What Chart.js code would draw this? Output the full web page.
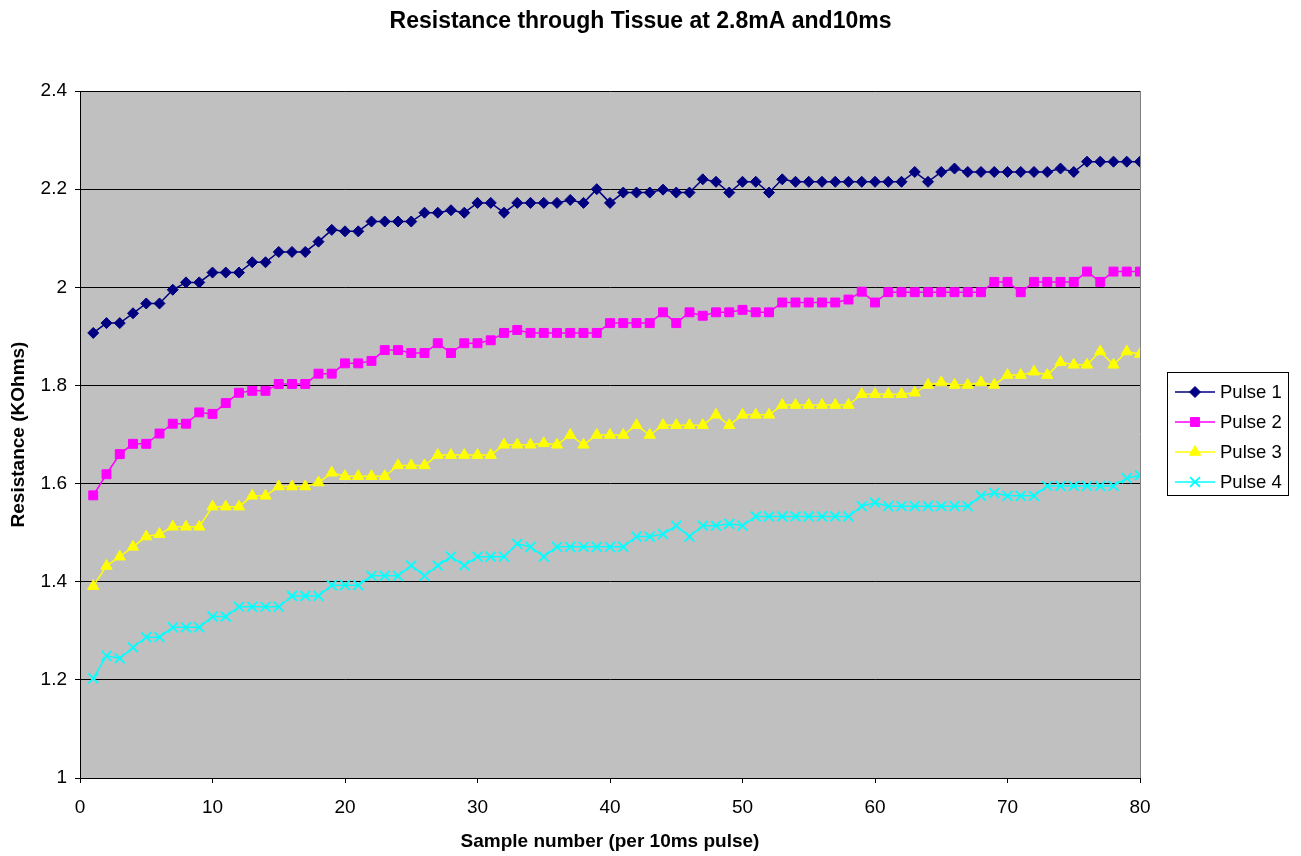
<!DOCTYPE html>
<html>
<head>
<meta charset="utf-8">
<script src="https://cdn.jsdelivr.net/npm/chart.js@4.4.1/dist/chart.umd.min.js"></script>
<style>
  body { margin: 0; background: #fff; }
  #wrap { width: 1301px; height: 856px; position: relative; }
</style>
</head>
<body>
<div id="wrap"><canvas id="chart"></canvas></div>
<script>
const samples = [1,2,3,4,5,6,7,8,9,10,11,12,13,14,15,16,17,18,19,20,
  21,22,23,24,25,26,27,28,29,30,31,32,33,34,35,36,37,38,39,40,
  41,42,43,44,45,46,47,48,49,50,51,52,53,54,55,56,57,58,59,60,
  61,62,63,64,65,66,67,68,69,70,71,72,73,74,75,76,77,78,79,80];

const pulse1 = [1.907,1.927,1.927,1.947,1.967,1.967,1.995,2.010,2.010,2.030,
  2.030,2.030,2.051,2.051,2.072,2.072,2.072,2.093,2.117,2.114,
  2.114,2.134,2.134,2.134,2.134,2.152,2.152,2.157,2.152,2.172,
  2.172,2.152,2.172,2.172,2.172,2.172,2.178,2.172,2.200,2.172,
  2.193,2.193,2.193,2.199,2.193,2.193,2.220,2.215,2.193,2.215,
  2.215,2.193,2.220,2.215,2.215,2.215,2.215,2.215,2.215,2.215,
  2.215,2.215,2.235,2.215,2.235,2.242,2.235,2.235,2.235,2.235,
  2.235,2.235,2.235,2.242,2.235,2.256,2.256,2.256,2.256,2.256];

const pulse2 = [1.576,1.619,1.660,1.681,1.681,1.702,1.722,1.722,1.745,1.742,
  1.764,1.785,1.789,1.789,1.803,1.803,1.803,1.824,1.824,1.845,
  1.845,1.850,1.872,1.872,1.866,1.866,1.886,1.866,1.886,1.886,
  1.892,1.907,1.913,1.907,1.907,1.907,1.907,1.907,1.907,1.927,
  1.927,1.927,1.927,1.949,1.927,1.949,1.942,1.949,1.949,1.954,
  1.949,1.949,1.969,1.969,1.969,1.969,1.969,1.975,1.991,1.969,
  1.990,1.990,1.990,1.990,1.990,1.990,1.990,1.990,2.011,2.011,
  1.990,2.011,2.011,2.011,2.011,2.032,2.011,2.032,2.032,2.032];

const pulse3 = [1.391,1.432,1.451,1.471,1.492,1.497,1.512,1.512,1.512,1.553,
  1.553,1.553,1.575,1.575,1.594,1.594,1.594,1.602,1.622,1.615,
  1.615,1.615,1.615,1.637,1.637,1.637,1.658,1.658,1.658,1.658,
  1.658,1.679,1.679,1.679,1.682,1.679,1.699,1.679,1.699,1.699,
  1.699,1.719,1.699,1.719,1.719,1.719,1.719,1.740,1.719,1.740,
  1.740,1.740,1.760,1.760,1.760,1.760,1.760,1.760,1.782,1.782,
  1.782,1.782,1.785,1.801,1.806,1.801,1.801,1.806,1.801,1.821,
  1.821,1.828,1.821,1.847,1.842,1.842,1.869,1.842,1.869,1.864];

const pulse4 = [1.203,1.249,1.244,1.266,1.287,1.287,1.307,1.307,1.307,1.329,
  1.329,1.349,1.349,1.349,1.349,1.371,1.371,1.371,1.393,1.393,
  1.393,1.412,1.412,1.412,1.433,1.412,1.433,1.451,1.433,1.451,
  1.451,1.451,1.477,1.471,1.451,1.471,1.471,1.471,1.471,1.471,
  1.471,1.492,1.492,1.497,1.514,1.492,1.514,1.514,1.518,1.514,
  1.533,1.533,1.533,1.533,1.533,1.533,1.533,1.533,1.554,1.561,
  1.554,1.554,1.554,1.554,1.554,1.554,1.554,1.575,1.581,1.575,
  1.575,1.575,1.595,1.595,1.595,1.595,1.595,1.595,1.611,1.617];

const seriesNames = ["Pulse 1", "Pulse 2", "Pulse 3", "Pulse 4"];
const seriesValues = [pulse1, pulse2, pulse3, pulse4];
const colors = ["#000080", "#ff00ff", "#ffff00", "#00ffff"];
const markers = ["rectRot", "rect", "triangle", "crossRot"];
const markerSizes = [5.5, 6.3, 6.5, 7];

const FONT = "Arial, 'Liberation Sans', sans-serif";
Chart.defaults.font.family = FONT;
Chart.defaults.color = "#000";

const datasets = seriesValues.map((vals, i) => ({
  label: seriesNames[i],
  data: vals.map((v, j) => ({ x: samples[j], y: v })),
  borderColor: colors[i],
  backgroundColor: colors[i],
  borderWidth: 1.5,
  tension: 0,
  pointStyle: markers[i],
  pointRadius: markerSizes[i],
  pointBackgroundColor: colors[i],
  pointBorderColor: colors[i],
  pointBorderWidth: i === 3 ? 1.8 : 1,
  yAxisID: "y"
}));

// grey plot area and its right edge
const plotArea = {
  id: "plotArea",
  beforeDraw(chart) {
    const { ctx, chartArea: a } = chart;
    ctx.save();
    ctx.fillStyle = "#c0c0c0";
    ctx.fillRect(a.left, a.top, a.right - a.left, a.bottom - a.top);
    ctx.restore();
  },
  afterDraw(chart) {
    const { ctx, chartArea: a } = chart;
    ctx.save();
    ctx.strokeStyle = "#808080";
    ctx.lineWidth = 1;
    ctx.beginPath();
    ctx.moveTo(a.right + 0.5, a.top);
    ctx.lineTo(a.right + 0.5, a.bottom);
    ctx.stroke();
    ctx.restore();
  }
};

// boxed legend with line + marker, like the spreadsheet one
const boxLegend = {
  id: "boxLegend",
  afterDraw(chart) {
    const ctx = chart.ctx;
    const bx = 1167, by = 372, bw = 121, bh = 123;
    ctx.save();
    ctx.fillStyle = "#fff";
    ctx.fillRect(bx, by, bw, bh);
    ctx.strokeStyle = "#000";
    ctx.lineWidth = 1;
    ctx.strokeRect(bx + 0.5, by + 0.5, bw, bh);
    ctx.font = "18.5px " + FONT;
    ctx.textBaseline = "middle";
    chart.data.datasets.forEach((ds, i) => {
      const y = 392 + i * 30;
      ctx.strokeStyle = ds.borderColor;
      ctx.lineWidth = 1.5;
      ctx.beginPath();
      ctx.moveTo(1175, y);
      ctx.lineTo(1215, y);
      ctx.stroke();
      ctx.fillStyle = ds.pointBackgroundColor;
      ctx.lineWidth = ds.pointBorderWidth;
      Chart.helpers.drawPoint(ctx, {
        pointStyle: ds.pointStyle,
        radius: ds.pointRadius,
        rotation: 0,
        borderWidth: ds.pointBorderWidth
      }, 1195, y);
      ctx.fillStyle = "#000";
      ctx.fillText(ds.label, 1220, y + 1);
    });
    ctx.restore();
  }
};

new Chart(document.getElementById("chart"), {
  type: "line",
  data: { datasets },
  options: {
    responsive: true,
    maintainAspectRatio: false,
    animation: false,
    layout: { padding: { right: 20 } },
    plugins: {
      legend: { display: false },
      tooltip: { enabled: false },
      title: {
        display: true,
        text: "Resistance through Tissue at 2.8mA and10ms",
        font: { size: 23, weight: "bold" },
        color: "#000",
        padding: { top: 8, bottom: 55.4 }
      }
    },
    scales: {
      x: {
        type: "linear",
        min: 0,
        max: 80,
        ticks: { stepSize: 10, font: { size: 19 }, padding: 13, maxRotation: 0 },
        grid: { drawOnChartArea: false, drawTicks: true, tickLength: 5, color: "#000" },
        border: { display: true, color: "#000", width: 1 },
        title: {
          display: true,
          text: "Sample number (per 10ms pulse)",
          font: { size: 19, weight: "bold" },
          padding: { top: 0, bottom: 3 }
        },
        afterFit(s) { s.height = 78; }
      },
      y: {
        type: "linear",
        position: "left",
        min: 1,
        max: 2.4,
        ticks: {
          stepSize: 0.2,
          font: { size: 19 },
          padding: 8,
          callback: v => String(+v.toFixed(1))
        },
        grid: { color: "#000", lineWidth: 1, drawTicks: true, tickLength: 5 },
        border: { display: true, color: "#000", width: 1 },
        title: {
          display: true,
          text: "Resistance (KOhms)",
          font: { size: 19, weight: "bold" },
          padding: { top: 7, bottom: 0 }
        },
        afterFit(s) { s.width = 80; }
      },
      y2: {
        type: "linear",
        position: "right",
        min: 0,
        max: 1,
        ticks: { display: false },
        grid: { display: false },
        border: { display: false },
        afterFit(s) { s.width = 141; }
      }
    }
  },
  plugins: [plotArea, boxLegend]
});
</script>
</body>
</html>
